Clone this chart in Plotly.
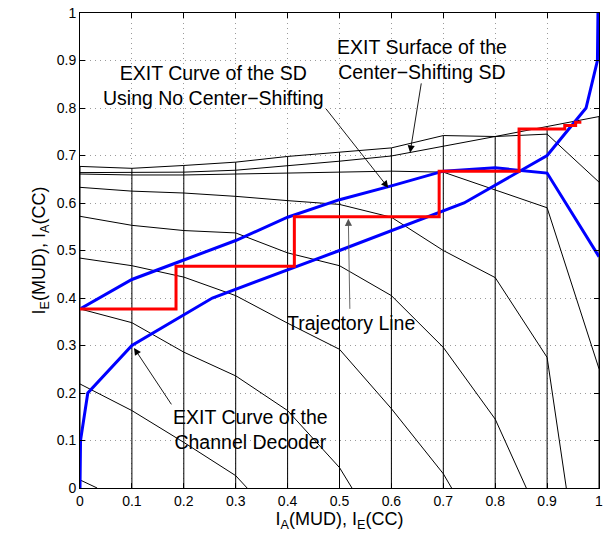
import plotly.graph_objects as go

# ---------------- data ----------------
IA_GRID = [0.0, 0.1, 0.2, 0.3, 0.4, 0.5, 0.6, 0.7, 0.8, 0.9, 1.0]

# EXIT surface of the centre-shifting SD: one curve per parameter value,
# sampled on IA_GRID; curves that leave the visible range end at a zero crossing
SURF_1 = [0.677, 0.673, 0.679, 0.686, 0.698, 0.707, 0.716, 0.742, 0.740, 0.745, 0.644]
SURF_2 = [0.664, 0.664, 0.665, 0.669, 0.678, 0.688, 0.699, 0.719, 0.740, 0.761, 0.782]
SURF_3 = [0.661, 0.659, 0.659, 0.661, 0.663, 0.665, 0.667, 0.665, 0.627, 0.590, 0.251]
SURF_4 = [0.633, 0.625, 0.621, 0.614, 0.605, 0.597, 0.570, 0.500, 0.443, 0.275]
SURF_4_ZERO = 0.937
SURF_5 = [0.572, 0.553, 0.542, 0.537, 0.495, 0.468, 0.405, 0.296, 0.145]
SURF_5_ZERO = 0.860
SURF_6 = [0.484, 0.468, 0.444, 0.405, 0.347, 0.292, 0.167, 0.030]
SURF_6_ZERO = 0.716
SURF_7 = [0.377, 0.348, 0.286, 0.236, 0.163, 0.043]
SURF_7_ZERO = 0.524
SURF_8 = [0.219, 0.163, 0.096, 0.026]
SURF_8_ZERO = 0.322
SURF_9 = [0.017]
SURF_9_ZERO = 0.033

# EXIT curve of the SD without centre shifting
SD_NOCS_X = [0.0, 0.1, 0.2, 0.3, 0.4, 0.5, 0.6, 0.7, 0.8, 0.9, 1.0]
SD_NOCS_Y = [0.377, 0.439, 0.480, 0.521, 0.570, 0.607, 0.636, 0.667, 0.674, 0.663, 0.487]

# EXIT curve of the channel decoder (axes swapped)
CC_IE = [0.0, 0.001, 0.015, 0.100, 0.255, 0.500, 0.740, 0.900, 0.975, 0.997, 0.998]
CC_IA = [0.0, 0.1, 0.2, 0.3, 0.4, 0.5, 0.6, 0.7, 0.8, 0.9, 1.0]

# decoding trajectory
TRAJ_X = [0.0, 0.185, 0.185, 0.413, 0.413, 0.692, 0.692, 0.846, 0.846, 0.934, 0.934, 0.955, 0.955, 0.966]
TRAJ_Y = [0.377, 0.377, 0.467, 0.467, 0.571, 0.571, 0.667, 0.667, 0.756, 0.756, 0.763, 0.763, 0.770, 0.770]

TICKS = [0, 0.1, 0.2, 0.3, 0.4, 0.5, 0.6, 0.7, 0.8, 0.9, 1]
TICK_TEXT = ["0", "0.1", "0.2", "0.3", "0.4", "0.5", "0.6", "0.7", "0.8", "0.9", "1"]

# ---------------- figure ----------------
FONT = "Liberation Sans, Arial, Helvetica, sans-serif"
fig = go.Figure()

surface = [
    (SURF_1, None), (SURF_2, None), (SURF_3, None),
    (SURF_4, SURF_4_ZERO), (SURF_5, SURF_5_ZERO), (SURF_6, SURF_6_ZERO),
    (SURF_7, SURF_7_ZERO), (SURF_8, SURF_8_ZERO), (SURF_9, SURF_9_ZERO),
]

# constant-IA mesh lines (vertical in this projection)
for j, xv in enumerate(IA_GRID):
    vals = [c[j] for c, _ in surface if len(c) > j]
    fig.add_trace(go.Scatter(x=[xv, xv], y=[0, max(vals)], mode="lines",
                             line=dict(color="black", width=1),
                             hoverinfo="skip", showlegend=False))

# constant-parameter curves
for vals, zero in surface:
    xs = IA_GRID[:len(vals)]
    ys = list(vals)
    if zero is not None:
        xs = xs + [zero]
        ys = ys + [0.0]
    fig.add_trace(go.Scatter(x=xs, y=ys, mode="lines", line=dict(color="black", width=1),
                             hoverinfo="skip", showlegend=False))

fig.add_trace(go.Scatter(x=SD_NOCS_X, y=SD_NOCS_Y, mode="lines",
                         line=dict(color="#0000ff", width=3), showlegend=False))
fig.add_trace(go.Scatter(x=CC_IE, y=CC_IA, mode="lines",
                         line=dict(color="#0000ff", width=3), showlegend=False))
fig.add_trace(go.Scatter(x=TRAJ_X, y=TRAJ_Y, mode="lines",
                         line=dict(color="#ff0000", width=3), showlegend=False))

TXT = dict(family=FONT, size=19.5, color="black")
labels = [
    ("EXIT Curve of the SD<br>Using No Center\u2212Shifting", 0.257, 0.848),
    ("EXIT Surface of the<br>Center\u2212Shifting SD", 0.659, 0.902),
    ("Trajectory Line", 0.5225, 0.347),
    ("EXIT Curve of the<br>Channel Decoder", 0.328, 0.123),
]
for t, x, y in labels:
    fig.add_annotation(x=x, y=y, text=t, showarrow=False, font=TXT,
                       xanchor="center", yanchor="middle", align="center")

arrows = [  # (head x, head y, tail x, tail y, colour)
    (0.594, 0.632, 0.472, 0.801, "black"),
    (0.636, 0.706, 0.658, 0.855, "black"),
    (0.517, 0.567, 0.520, 0.374, "#555555"),
    (0.104, 0.295, 0.178, 0.173, "black"),
]
for hx, hy, tx, ty, c in arrows:
    fig.add_annotation(x=hx, y=hy, ax=tx, ay=ty, xref="x", yref="y",
                       axref="x", ayref="y", text="", showarrow=True,
                       arrowhead=2, arrowsize=1.6, arrowwidth=0.9,
                       arrowcolor=c, standoff=0, startstandoff=0)

axis_common = dict(
    range=[0, 1], tickvals=TICKS, ticktext=TICK_TEXT, automargin=False,
    showgrid=True, gridcolor="#9a9a9a", gridwidth=1, griddash="1px,4px",
    zeroline=False, showline=True, linecolor="black", linewidth=1,
    mirror="ticks", ticks="inside", ticklen=5, tickcolor="black",
    tickfont=dict(family=FONT, size=14, color="black"),
)
fig.update_xaxes(**axis_common,
                 title=dict(text="I<sub>A</sub>(MUD), I<sub>E</sub>(CC)",
                            font=dict(family=FONT, size=18, color="black"), standoff=0))
fig.update_yaxes(**axis_common,
                 title=dict(text="I<sub>E</sub>(MUD), I<sub>A</sub>(CC)",
                            font=dict(family=FONT, size=18, color="black"), standoff=6))

fig.update_layout(width=613, height=534, margin=dict(l=79.5, r=13.5, t=13, b=46),
                  paper_bgcolor="white", plot_bgcolor="white")

fig.write_html("out.html", config={"displayModeBar": False},
               post_script="document.body.style.margin='0';"
                           "document.body.style.overflow='hidden';")
